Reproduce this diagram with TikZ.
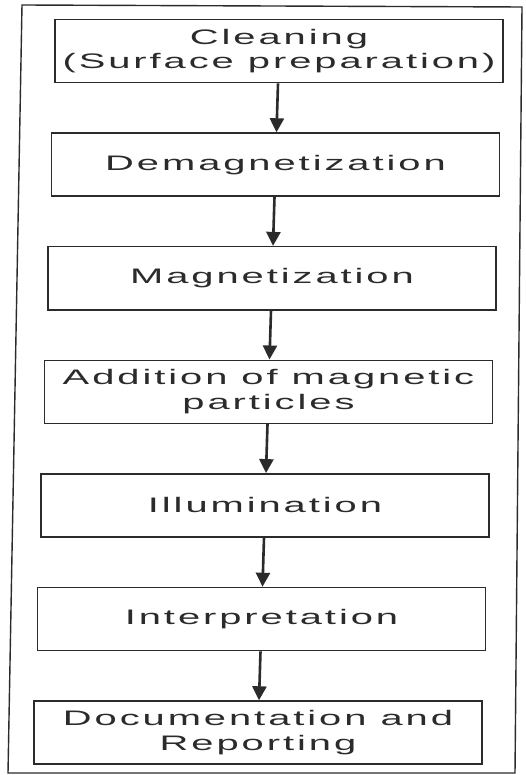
\documentclass[tikz,border=0pt]{standalone}
\usepackage{fontspec}
\setmainfont{Liberation Sans}
\newfontfamily\scanfont[FakeStretch=1.9,LetterSpace=14]{Liberation Sans}
\usetikzlibrary{arrows.meta, positioning}
\definecolor{inkgray}{HTML}{2B2B2B}

\begin{document}
\begin{tikzpicture}[x=1pt, y=-1pt,
        node distance = 49pt,
        stage/.style = {draw=inkgray, rectangle, line width=1.6pt, inner sep=0pt, minimum width=448pt, minimum height=63pt, align=center, text=inkgray, font=\scanfont\fontsize{21}{24.5}\selectfont},
        arrow/.style = {draw=inkgray, line width=2.6pt, -{Triangle[width=14pt, length=14pt]}}
    ]
        \useasboundingbox (0,0) rectangle (525,775);

        % Frame
        \draw [inkgray, line width=1.4pt] (22,5) -- (522,7) -- (515,773) -- (8,773) -- cycle;

        % Stages
        \node (clean) [stage] at (279,51) {Cleaning\\(Surface preparation)};
        \node (demag) [stage, below=of clean, xshift=-3.5pt] {Demagnetization};
        \node (mag)   [stage, below=of demag, xshift=-3.5pt] {Magnetization};
        \node (part)  [stage, below=of mag, xshift=-3.5pt] {Addition of magnetic\\particles};
        \node (illum) [stage, below=of part, xshift=-3.5pt] {Illumination};
        \node (interp)[stage, below=of illum, xshift=-3.5pt] {Interpretation};
        \node (doc)   [stage, below=of interp, xshift=-3.5pt] {Documentation and\\Reporting};

        % Arrows
        \draw [arrow] (clean) -- (demag);
        \draw [arrow] (demag) -- (mag);
        \draw [arrow] (mag) -- (part);
        \draw [arrow] (part) -- (illum);
        \draw [arrow] (illum) -- (interp);
        \draw [arrow] (interp) -- (doc);

    \end{tikzpicture}
\end{document}
